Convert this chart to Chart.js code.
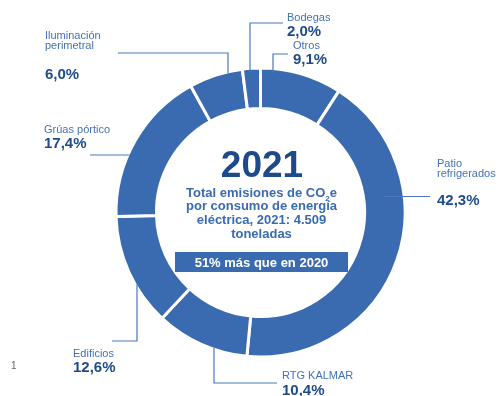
<!DOCTYPE html>
<html lang="es">
<head>
<meta charset="utf-8">
<title>Emisiones de CO2e por consumo de energía eléctrica 2021</title>
<script src="https://cdn.jsdelivr.net/npm/chart.js@4.4.1/dist/chart.umd.min.js"></script>
<style>
  html, body { margin: 0; padding: 0; background: #fff; }
  #wrap { width: 502px; height: 396px; }
</style>
</head>
<body>
<div id="wrap"><canvas id="myChart" width="502" height="396"></canvas></div>
<script>
// Shares of CO2e emissions by source, clockwise from 12 o'clock
var categories = ['Otros', 'Patio refrigerados', 'RTG KALMAR', 'Edificios', 'Grúas pórtico', 'Iluminación perimetral', 'Bodegas'];
var shares = [9.1, 42.3, 10.4, 12.6, 17.4, 6.0, 2.0];
// how each category name is broken over lines in its label
var nameLines = [['Otros'], ['Patio', 'refrigerados'], ['RTG KALMAR'], ['Edificios'], ['Grúas pórtico'], ['Iluminación', 'perimetral'], ['Bodegas']];

var year = '2021';
var totalLines = ['Total emisiones de CO|2|e', 'por consumo de energía', 'eléctrica, 2021: 4.509', 'toneladas'];
var badge = '51% más que en 2020';

var BLUE = '#3a6bb0';
var NAVY = '#1f4b8c';
var FONT = "'Liberation Sans', Arial, sans-serif";

// label placement, relative to the centre of the ring: [x, name baseline, % baseline]
var labelPos = [
  [32.5, -163.5, -148.5],
  [176.5, -35.5, -7.5],
  [21.5, 166.5, 182.5],
  [-187.5, 144.5, 159.5],
  [-216.5, -79.5, -64.5],
  [-215.5, -163.5, -133.5],
  [26.5, -191.5, -176.5]
];

// leader lines: where they leave the ring, then the elbows
// start = [axis held fixed, its value, sign of the other coord, radius ('outer' | 'mid' | 'in')]
var leaders = [
  { start: ['x', 12.5, -1, 'in'], via: [[12.5, -158.5], [27.5, -158.5]] },
  { start: ['y', -16, 1, 'mid'], via: [[169.5, -16]] },
  { start: ['x', -46.5, 1, 'outer'], via: [[-46.5, 170.5], [16.5, 170.5]] },
  { start: ['x', -123.5, 1, 'outer'], via: [[-123.5, 128.5], [-148.5, 128.5]] },
  { start: ['y', -57.5, -1, 'outer'], via: [[-170.5, -57.5]] },
  { start: ['x', -32.5, -1, 'outer'], via: [[-32.5, -159.5], [-142.5, -159.5]] },
  { start: ['x', -10.5, -1, 'in'], via: [[-10.5, -189.5], [22.5, -189.5]] }
];

function pct(v) {
  return v.toFixed(1).replace('.', ',') + '%';
}

function ringPoint(start, outer, inner) {
  var rad = start[3] === 'mid' ? (outer + inner) / 2 : start[3] === 'in' ? outer - 3 : outer;
  var other = start[2] * Math.sqrt(rad * rad - start[1] * start[1]);
  return start[0] === 'x' ? [start[1], other] : [other, start[1]];
}

var annotations = {
  id: 'annotations',
  afterDatasetsDraw: function (chart) {
    var c = chart.ctx;
    var arc = chart.getDatasetMeta(0).data[0];
    var cx = arc.x, cy = arc.y;
    var outer = arc.outerRadius - 1.5, inner = arc.innerRadius + 1.5;

    c.save();
    // leader lines
    c.strokeStyle = '#4a78b8';
    c.lineWidth = 1.2;
    leaders.forEach(function (l) {
      var p = ringPoint(l.start, outer, inner);
      c.beginPath();
      c.moveTo(cx + p[0], cy + p[1]);
      l.via.forEach(function (q) { c.lineTo(cx + q[0], cy + q[1]); });
      c.stroke();
    });

    // category names and their shares
    c.textAlign = 'left';
    c.textBaseline = 'alphabetic';
    categories.forEach(function (name, i) {
      var pos = labelPos[i];
      var lines = nameLines[i];
      c.fillStyle = '#4372b5';
      c.font = '11px ' + FONT;
      lines.forEach(function (t, k) {
        c.fillText(t, cx + pos[0], cy + pos[1] + k * 10 - (lines.length - 1) * 10);
      });
      c.fillStyle = NAVY;
      c.font = 'bold 15px ' + FONT;
      c.fillText(pct(shares[i]), cx + pos[0], cy + pos[2]);
    });

    // centre block
    c.textAlign = 'center';
    c.fillStyle = '#1d4a8a';
    c.font = 'bold 37px ' + FONT;
    c.fillText(year, cx + 1.5, cy - 36);

    c.fillStyle = BLUE;
    c.font = 'bold 13px ' + FONT;
    totalLines.forEach(function (t, k) {
      var y = cy - 16 + k * 13.7;
      if (t.indexOf('|') < 0) {
        c.fillText(t, cx + 1, y);
        return;
      }
      // line with a subscript
      var parts = t.split('|');
      c.font = 'bold 13px ' + FONT;
      var w0 = c.measureText(parts[0]).width;
      var w2 = c.measureText(parts[2]).width;
      c.font = 'bold 8px ' + FONT;
      var w1 = c.measureText(parts[1]).width;
      var x = cx + 1 - (w0 + w1 + w2) / 2;
      c.textAlign = 'left';
      c.font = 'bold 13px ' + FONT;
      c.fillText(parts[0], x, y);
      c.fillText(parts[2], x + w0 + w1, y);
      c.font = 'bold 8px ' + FONT;
      c.fillText(parts[1], x + w0, y + 4);
      c.textAlign = 'center';
      c.font = 'bold 13px ' + FONT;
    });

    c.fillStyle = BLUE;
    c.fillRect(cx - 85.5, cy + 39.5, 173, 20);
    c.fillStyle = '#fff';
    c.font = 'bold 13px ' + FONT;
    c.fillText(badge, cx + 1, cy + 54);

    // stray mark at the left edge
    c.textAlign = 'left';
    c.fillStyle = '#6b6470';
    c.font = '10px ' + FONT;
    c.fillText('1', 11, 369);
    c.restore();
  }
};

var ctx = document.getElementById('myChart').getContext('2d');

var myChart = new Chart(ctx, {
  type: 'doughnut',
  data: {
    labels: categories,
    datasets: [{
      data: shares,
      backgroundColor: BLUE,
      borderColor: '#ffffff',
      borderWidth: 3,
      hoverOffset: 0
    }]
  },
  options: {
    responsive: false,
    animation: false,
    devicePixelRatio: 1,
    radius: 144.5,
    cutout: '72%',
    layout: { padding: { left: 69, right: 50, top: 49, bottom: 20 } },
    plugins: {
      legend: { display: false },
      tooltip: { enabled: false }
    }
  },
  plugins: [annotations]
});
</script>
</body>
</html>
